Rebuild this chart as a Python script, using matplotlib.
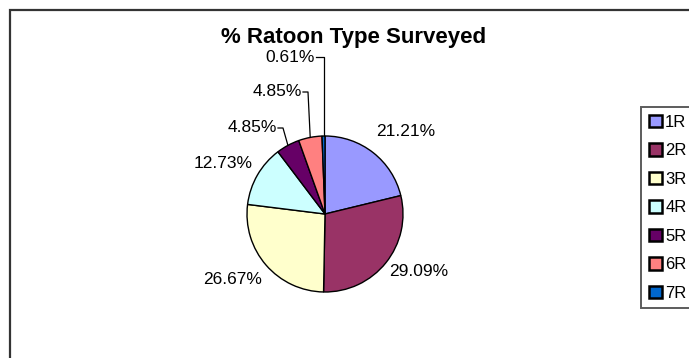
import numpy as np
import matplotlib
matplotlib.use("Agg")
import matplotlib.pyplot as plt
from matplotlib.patches import Rectangle

categories = ["1R", "2R", "3R", "4R", "5R", "6R", "7R"]
values = [21.21, 29.09, 26.67, 12.73, 4.85, 4.85, 0.61]
labels = ["21.21%", "29.09%", "26.67%", "12.73%", "4.85%", "4.85%", "0.61%"]
colors = ["#9999FF", "#993366", "#FFFFCC", "#CCFFFF", "#660066", "#FF8080", "#0066CC"]
title = "% Ratoon Type Surveyed"

W, H = 689, 358
plt.rcParams['font.family'] = ['Liberation Sans', 'DejaVu Sans']
fig = plt.figure(figsize=(W / 100, H / 100), dpi=100)
ax = fig.add_axes([0, 0, 1, 1])

def Y(ypx):
    return H - ypx

cx, cy, r = 325, Y(214), 78
wedges, _ = ax.pie(values, colors=colors, startangle=90, counterclock=False,
                   center=(cx, cy), radius=r,
                   wedgeprops=dict(edgecolor="black", linewidth=1.0))
ax.set_xlim(0, W)
ax.set_ylim(0, H)
ax.set_aspect("equal")
ax.axis("off")

# outer chart border
ax.add_patch(Rectangle((10, -20), W + 40, Y(10) + 20, fill=False,
                       edgecolor="#333333", linewidth=1.6, clip_on=False))

ax.text(354, Y(37), title, ha="center", va="center", fontsize=16,
        fontweight="bold")

fs = 12.5
# labels placed directly
direct = {0: (406, 132), 1: (419, 272), 2: (233, 279), 3: (223, 163)}
for i, (x, y) in direct.items():
    ax.text(x, Y(y), labels[i], ha="center", va="center", fontsize=fs)

# labels with leader lines (text right end, y)
leader = {4: (277, 128), 5: (302, 92), 6: (315, 57)}
for i, (x, y) in leader.items():
    w = wedges[i]
    ang = np.deg2rad((w.theta1 + w.theta2) / 2)
    px, py = cx + r * np.cos(ang), cy + r * np.sin(ang)
    ax.text(x, Y(y), labels[i], ha="right", va="center", fontsize=fs)
    ex = x + 6 if i != 6 else px
    ax.plot([x + 1, ex, px], [Y(y), Y(y), py], color="black", linewidth=0.9)

leg = ax.legend(wedges, categories, loc="upper left",
                bbox_to_anchor=(641 / W, 1 - 107 / H), bbox_transform=fig.transFigure,
                fontsize=12, frameon=True, fancybox=False, borderpad=0.45,
                handlelength=0.8, handleheight=0.8, handletextpad=0.2,
                labelspacing=0.8, borderaxespad=0)
leg.get_frame().set_edgecolor("#333333")
leg.get_frame().set_linewidth(1.4)
for h in leg.legend_handles:
    h.set_linewidth(1.8)

fig.savefig("out.png", dpi=100)
